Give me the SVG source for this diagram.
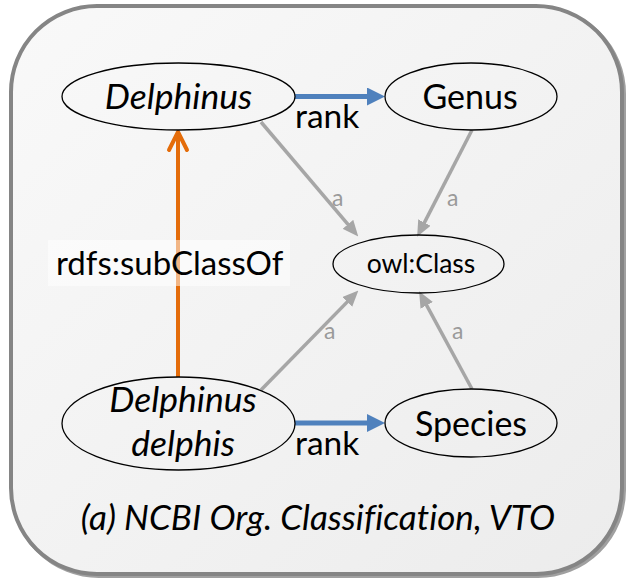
<svg xmlns="http://www.w3.org/2000/svg" width="628" height="582" viewBox="0 0 628 582">
<defs>
<linearGradient id="bg" x1="0" y1="0" x2="1" y2="1">
<stop offset="0" stop-color="#f9f9f9"/>
<stop offset="1" stop-color="#ececec"/>
</linearGradient>
<marker id="ablue" markerUnits="userSpaceOnUse" viewBox="0 0 18 18" markerWidth="18" markerHeight="18" refX="4" refY="9" orient="auto">
<path d="M0,0 L18,9 L0,18 z" fill="#4f81bd"/>
</marker>
<marker id="agrey" markerUnits="userSpaceOnUse" viewBox="0 0 16 14" markerWidth="16" markerHeight="14" refX="4" refY="7" orient="auto">
<path d="M0,0 L16,7 L0,14 z" fill="#a6a6a6"/>
</marker>
<marker id="aorange" markerUnits="userSpaceOnUse" viewBox="0 0 24 24" markerWidth="24" markerHeight="24" refX="21" refY="12" orient="auto">
<path d="M3,3 L21,12 L3,21" fill="none" stroke="#e46c0a" stroke-width="4" stroke-linecap="round" stroke-linejoin="round"/>
</marker>
</defs>
<style>
.node{fill:none;stroke:#000;stroke-width:1.3}
.t{font-family:Lato,"Liberation Sans",sans-serif;fill:#000;text-anchor:middle;font-variant-ligatures:none}
.it{font-style:italic}
.lbl{font-family:Lato,"Liberation Sans",sans-serif;fill:#000}
.al{font-family:Lato,"Liberation Sans",sans-serif;fill:#9a9a9a;font-size:23px}
.grey{stroke:#a6a6a6;stroke-width:3.5;fill:none;marker-end:url(#agrey)}
.blue{stroke:#4f81bd;stroke-width:5;fill:none;marker-end:url(#ablue)}
</style>
<rect x="13" y="8" width="611" height="568" rx="86" ry="86" fill="none" stroke="#a0a0a0" stroke-width="4"/>
<rect x="11" y="6" width="611" height="568" rx="86" ry="86" fill="url(#bg)" stroke="#858585" stroke-width="4"/>

<g id="connectors">
<line class="blue" x1="295" y1="96.5" x2="371" y2="96.5"/>
<line class="blue" x1="295" y1="423" x2="371" y2="423"/>
<line class="grey" x1="261" y1="122" x2="350.5" y2="227.4"/>
<line class="grey" x1="472" y1="130" x2="422.6" y2="226.1"/>
<line class="grey" x1="261" y1="390" x2="350" y2="299.1"/>
<line class="grey" x1="472" y1="389" x2="424.8" y2="301.8"/>
<line x1="178" y1="377" x2="178" y2="132" stroke="#e46c0a" stroke-width="4" marker-end="url(#aorange)"/>
<rect x="48" y="240" width="242" height="46" fill="#ffffff" fill-opacity="0.5"/>
<text class="lbl" x="56" y="275" font-size="33">rdfs:subClassOf</text>
<text class="lbl" x="295" y="128" font-size="33.5">rank</text>
<text class="lbl" x="295" y="455" font-size="33.5">rank</text>
<text class="al" x="332" y="206">a</text>
<text class="al" x="447" y="206">a</text>
<text class="al" x="324" y="339">a</text>
<text class="al" x="452" y="339">a</text>
</g>

<g id="delphinus">
<ellipse class="node" cx="178.5" cy="96.5" rx="116.5" ry="33.5"/>
<text class="t it" x="178.5" y="109" font-size="35.5">Delphinus</text>
</g>
<g id="genus">
<ellipse class="node" cx="471" cy="96.5" rx="86" ry="33.5"/>
<text class="t" x="470" y="109" font-size="34">Genus</text>
</g>
<g id="owlclass">
<ellipse class="node" cx="418.5" cy="264" rx="85.5" ry="29"/>
<text class="t" x="421" y="273" font-size="26.5">owl:Class</text>
</g>
<g id="delphinus-delphis">
<ellipse class="node" cx="178.5" cy="423.5" rx="116.5" ry="46.5"/>
<text class="t it" x="183" y="412" font-size="35.5">Delphinus</text>
<text class="t it" x="183" y="456" font-size="35.5">delphis</text>
</g>
<g id="species">
<ellipse class="node" cx="471" cy="423" rx="86" ry="34"/>
<text class="t" x="471" y="436" font-size="34">Species</text>
</g>
<text class="t it" x="318" y="530" font-size="35">(a) NCBI Org. Classification, VTO</text>
</svg>
